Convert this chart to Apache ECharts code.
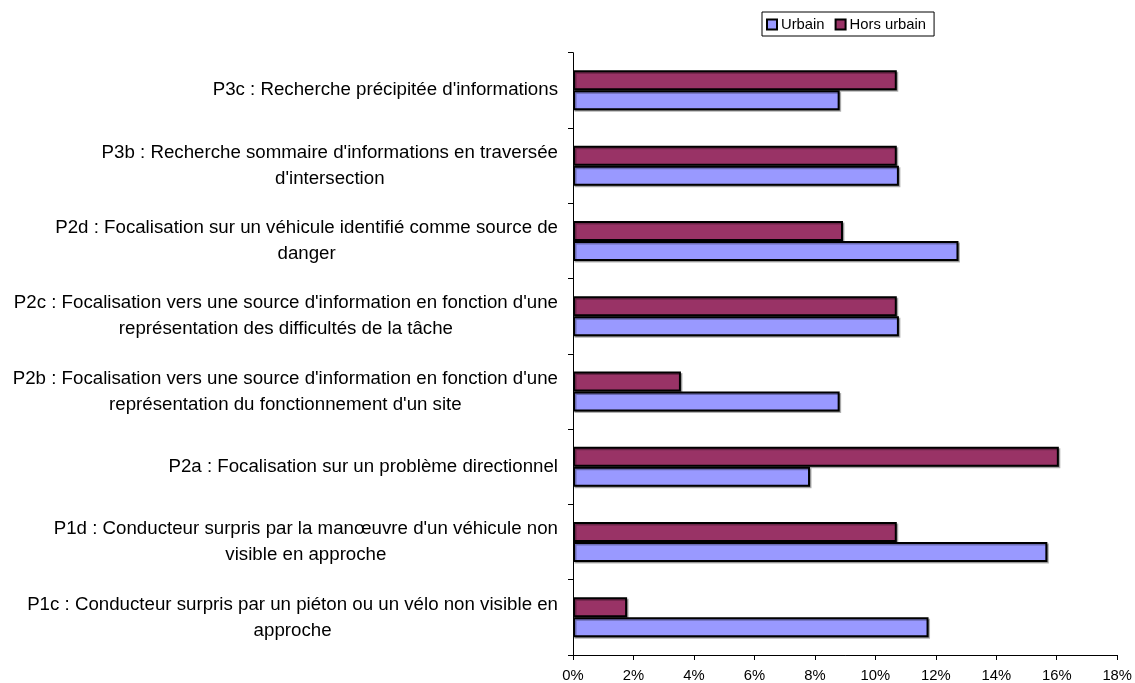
<!DOCTYPE html>
<html><head><meta charset="utf-8">
<script src="https://cdn.jsdelivr.net/npm/echarts@6/dist/echarts.min.js"></script>
<style>html,body{margin:0;padding:0;background:#fff;}#c{width:1135px;height:683px;}</style>
</head><body><div id="c"></div>
<script>
var categories = [
  "P1c : Conducteur surpris par un piéton ou un vélo non visible en\napproche",
  "P1d : Conducteur surpris par la manœuvre d'un véhicule non\nvisible en approche",
  "P2a : Focalisation sur un problème directionnel",
  "P2b : Focalisation vers une source d'information en fonction d'une\nreprésentation du fonctionnement d'un site",
  "P2c : Focalisation vers une source d'information en fonction d'une\nreprésentation des difficultés de la tâche",
  "P2d : Focalisation sur un véhicule identifié comme source de\ndanger",
  "P3b : Recherche sommaire d'informations en traversée\nd'intersection",
  "P3c : Recherche précipitée d'informations"
];
var urbain = [11.76, 15.69, 7.84, 8.82, 10.78, 12.75, 10.78, 8.82];
var horsUrbain = [1.79, 10.71, 16.07, 3.57, 10.71, 8.93, 10.71, 10.71];
var seriesNames = ["Urbain", "Hors urbain"];
var xTicks = [0, 2, 4, 6, 8, 10, 12, 14, 16, 18];

var chart = echarts.init(document.getElementById('c'), null, {renderer: 'canvas'});
var font = 'Liberation Sans, Arial, sans-serif';
function barStyle(color) {
  return {color: color, borderColor: '#000', borderWidth: 2,
          shadowColor: 'rgba(0,0,0,0.3)', shadowOffsetX: 1.5, shadowOffsetY: 1.5, shadowBlur: 0};
}
chart.setOption({
  animation: false,
  backgroundColor: '#fff',
  textStyle: {fontFamily: font},
  legend: {
    data: seriesNames,
    left: 762, top: 12,
    orient: 'horizontal',
    borderColor: '#000', borderWidth: 1, backgroundColor: '#fff',
    padding: [5, 8, 4, 4],
    itemWidth: 10, itemHeight: 10, itemGap: 10,
    icon: 'rect',
    itemStyle: {borderColor: '#000', borderWidth: 2, shadowBlur: 0, shadowOffsetX: 0, shadowOffsetY: 0, shadowColor: 'transparent'},
    textStyle: {fontFamily: font, fontSize: 14.8, color: '#000', padding: [0, 0, 0, -1]}
  },
  grid: {left: 573, right: 15, top: 52.7, bottom: 27.7, containLabel: false},
  xAxis: {
    type: 'value', min: xTicks[0], max: xTicks[xTicks.length - 1], interval: 2,
    axisLine: {show: true, lineStyle: {color: '#000', width: 1}},
    axisTick: {show: true, length: 5, lineStyle: {color: '#000'}},
    splitLine: {show: false},
    axisLabel: {formatter: function (v) { return v + '%'; }, fontFamily: font, fontSize: 14.8, color: '#000', margin: 13}
  },
  yAxis: {
    type: 'category', data: categories,
    axisLine: {show: true, lineStyle: {color: '#000', width: 1}},
    axisTick: {show: true, length: 5, lineStyle: {color: '#000'}},
    axisLabel: {
      margin: 15, fontFamily: font, fontSize: 18.7, color: '#000', lineHeight: 26,
      formatter: function (v) { return v.split('\n').map(function (l) { return '{c|' + l + '}'; }).join('\n'); },
      rich: {c: {align: 'center', fontFamily: font, fontSize: 18.7, color: '#000', lineHeight: 26}}
    }
  },
  series: [
    {name: seriesNames[1], type: 'bar', data: horsUrbain, barWidth: 20, barGap: '0%', itemStyle: barStyle('#993366')},
    {name: seriesNames[0], type: 'bar', data: urbain, barWidth: 20, barGap: '0%', itemStyle: barStyle('#9999FF')}
  ]
});
</script></body></html>
